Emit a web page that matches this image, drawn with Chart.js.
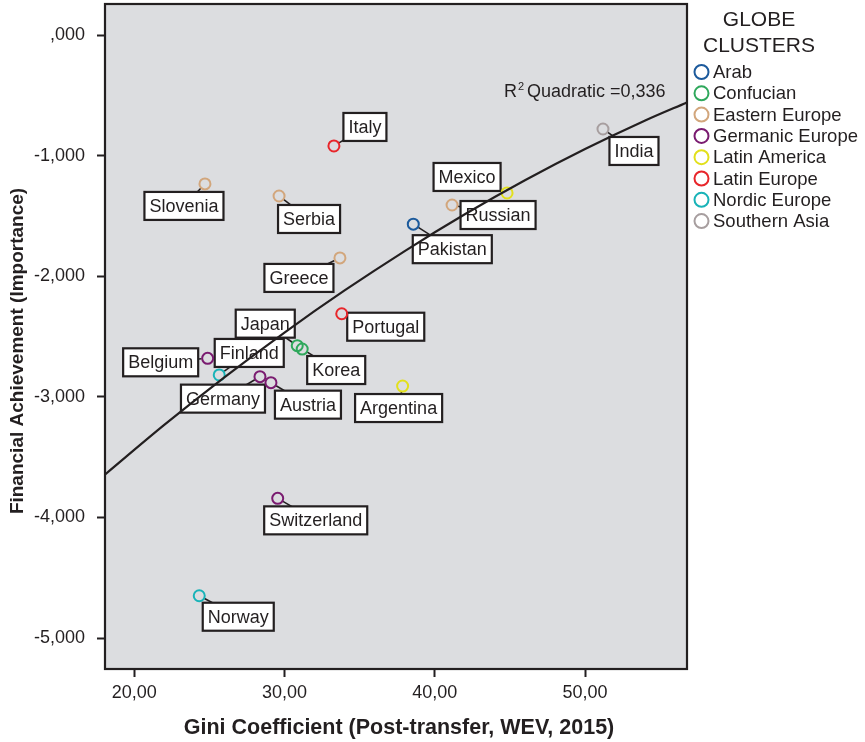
<!DOCTYPE html>
<html>
<head>
<meta charset="utf-8">
<script src="https://cdn.jsdelivr.net/npm/chart.js@4.4.0/dist/chart.umd.min.js"></script>
<style>
  html, body { margin: 0; padding: 0; background: #fff; }
  canvas { display: block; }
</style>
</head>
<body>
<canvas id="giniChart" width="865" height="742"></canvas>
<script>
(function() {
    'use strict';

    // --- data ---
    const countries = ['Italy', 'Slovenia', 'Serbia', 'Greece', 'Mexico', 'Russian', 'Pakistan', 'India',
        'Portugal', 'Japan', 'Korea', 'Belgium', 'Finland', 'Germany', 'Austria', 'Argentina',
        'Switzerland', 'Norway'];
    const gini = [33.29, 24.71, 29.64, 33.69, 44.81, 41.15, 38.57, 51.19,
        33.81, 30.85, 31.18, 24.89, 25.66, 28.37, 29.10, 37.86, 29.55, 24.33];
    const achievement = [-0.917, -1.232, -1.332, -1.846, -1.307, -1.407, -1.566, -0.776,
        -2.309, -2.574, -2.602, -2.679, -2.817, -2.831, -2.881, -2.909, -3.841, -4.649];
    const countryCluster = ['Latin Europe', 'Eastern Europe', 'Eastern Europe', 'Eastern Europe',
        'Latin America', 'Eastern Europe', 'Arab', 'Southern Asia', 'Latin Europe', 'Confucian',
        'Confucian', 'Germanic Europe', 'Nordic Europe', 'Germanic Europe', 'Germanic Europe',
        'Latin America', 'Germanic Europe', 'Nordic Europe'];

    const clusters = ['Arab', 'Confucian', 'Eastern Europe', 'Germanic Europe', 'Latin America',
        'Latin Europe', 'Nordic Europe', 'Southern Asia'];
    const clusterColors = ['#1c5a9c', '#2fa85c', '#d2a67c', '#7a1b70', '#e2e01c', '#e8262b',
        '#19b3b8', '#a79e9f'];

    // quadratic fit line
    const fitX = [18.0, 22, 26, 30, 34, 38, 42, 46, 50, 54, 56.8];
    const fitY = [-3.650, -3.232, -2.837, -2.465, -2.116, -1.789, -1.484, -1.202, -0.943, -0.706, -0.555];
    const fitLabel = 'Quadratic =0,336';

    const xMin = 18.06, xMax = 56.78;
    const yMin = -5.257, yMax = 0.261;

    // label box offsets from each point (px)
    const labelOffsets = [[31, -19], [-21, 22], [30, 23], [-41, 20], [-40, -16], [46, 10], [39, 25],
        [31, 22], [44, 13], [-32, -22], [34, 21], [-47, 4], [30, -22], [-37, 22], [37, 22],
        [-4, 22], [38, 22], [39, 21]];

    const FONT = 'Arial, "Liberation Sans", sans-serif';
    const INK = '#231f20';

    const datasets = [{
        type: 'line',
        label: 'fit',
        data: fitX.map((x, i) => ({ x: x, y: fitY[i] })),
        borderColor: INK,
        borderWidth: 2.2,
        pointRadius: 0,
        cubicInterpolationMode: 'monotone',
        fill: false,
        order: 0
    }];

    clusters.forEach((c, ci) => {
        const pts = [];
        countries.forEach((name, i) => {
            if (countryCluster[i] === c) pts.push({ x: gini[i], y: achievement[i] });
        });
        datasets.push({
            type: 'scatter',
            label: c,
            data: pts,
            borderColor: clusterColors[ci],
            backgroundColor: 'transparent',
            borderWidth: 2,
            pointRadius: 5.5,
            pointHoverRadius: 5.5,
            order: 1
        });
    });

    const plotFrame = {
        id: 'plotFrame',
        beforeDraw(chart) {
            const { ctx, chartArea: a } = chart;
            ctx.save();
            ctx.fillStyle = '#dcdde0';
            ctx.fillRect(a.left, a.top, a.right - a.left, a.bottom - a.top);
            ctx.restore();
        },
        beforeDatasetsDraw(chart) {
            // leaders and label boxes
            const { ctx } = chart;
            const xs = chart.scales.x, ys = chart.scales.y;
            ctx.save();
            ctx.font = '18px ' + FONT;
            countries.forEach((name, i) => {
                const px = xs.getPixelForValue(gini[i]);
                const py = ys.getPixelForValue(achievement[i]);
                const cx = px + labelOffsets[i][0];
                const cy = py + labelOffsets[i][1];
                const w = ctx.measureText(name).width + 10;
                const h = 28;
                const d = Math.hypot(cx - px, cy - py);
                ctx.strokeStyle = INK;
                ctx.lineWidth = 1.6;
                ctx.beginPath();
                ctx.moveTo(px + (cx - px) / d * 6, py + (cy - py) / d * 6);
                ctx.lineTo(cx, cy);
                ctx.stroke();
                ctx.fillStyle = '#fff';
                ctx.fillRect(cx - w / 2, cy - h / 2, w, h);
                ctx.lineWidth = 2.2;
                ctx.strokeRect(cx - w / 2, cy - h / 2, w, h);
                ctx.fillStyle = INK;
                ctx.textAlign = 'center';
                ctx.textBaseline = 'middle';
                ctx.fillText(name, cx, cy + 1);
            });
            ctx.restore();
        },
        afterDraw(chart) {
            const { ctx, chartArea: a } = chart;
            const xs = chart.scales.x, ys = chart.scales.y;
            ctx.save();
            ctx.strokeStyle = INK;
            ctx.lineWidth = 2.2;
            ctx.strokeRect(a.left, a.top, a.right - a.left, a.bottom - a.top);

            // R² annotation
            ctx.fillStyle = INK;
            ctx.textBaseline = 'alphabetic';
            ctx.textAlign = 'left';
            let tx = xs.getPixelForValue(44.6);
            const ty = ys.getPixelForValue(-0.51);
            ctx.font = '18px ' + FONT;
            ctx.fillText('R', tx, ty);
            tx += ctx.measureText('R').width;
            ctx.font = '11px ' + FONT;
            ctx.fillText('2', tx + 1, ty - 7);
            tx += ctx.measureText('2').width + 4;
            ctx.font = '18px ' + FONT;
            ctx.fillText(fitLabel, tx, ty);

            // axis titles
            ctx.font = 'bold 21.5px ' + FONT;
            ctx.textAlign = 'center';
            ctx.textBaseline = 'middle';
            ctx.fillText('Gini Coefficient (Post-transfer, WEV, 2015)', 399, 728);
            ctx.font = 'bold 19px ' + FONT;
            ctx.save();
            ctx.translate(18, 351);
            ctx.rotate(-Math.PI / 2);
            ctx.fillText('Financial Achievement (Importance)', 0, 0);
            ctx.restore();

            // legend
            ctx.font = '21px ' + FONT;
            ctx.fillText('GLOBE', 759, 20);
            ctx.fillText('CLUSTERS', 759, 46);
            ctx.font = '18.5px ' + FONT;
            ctx.textAlign = 'left';
            clusters.forEach((c, i) => {
                const ly = 72 + i * 21.3;
                ctx.strokeStyle = clusterColors[i];
                ctx.lineWidth = 2;
                ctx.beginPath();
                ctx.arc(701.5, ly, 7, 0, Math.PI * 2);
                ctx.stroke();
                ctx.fillStyle = INK;
                ctx.fillText(c, 713, ly + 1);
            });
            ctx.restore();
        }
    };

    const ctx = document.getElementById('giniChart').getContext('2d');
    new Chart(ctx, {
        data: { datasets: datasets },
        options: {
            responsive: false,
            animation: false,
            devicePixelRatio: 1,
            layout: { autoPadding: false, padding: { top: 4, right: 178, left: 0, bottom: 0 } },
            plugins: { legend: { display: false }, tooltip: { enabled: false } },
            scales: {
                x: {
                    type: 'linear',
                    min: xMin,
                    max: xMax,
                    afterFit(scale) {
                        scale.height = 73;
                        scale.paddingLeft = 0;
                        scale.paddingRight = 0;
                    },
                    border: { display: false },
                    grid: { drawOnChartArea: false, drawTicks: true, tickLength: 8, tickColor: INK, tickWidth: 2 },
                    ticks: {
                        stepSize: 10,
                        includeBounds: false,
                        padding: 5,
                        color: INK,
                        font: { family: FONT, size: 18 },
                        callback: (v) => v.toFixed(2).replace('.', ',')
                    }
                },
                y: {
                    type: 'linear',
                    min: yMin,
                    max: yMax,
                    afterFit(scale) {
                        scale.width = 105;
                        scale.paddingTop = 0;
                        scale.paddingBottom = 0;
                    },
                    border: { display: false },
                    grid: { drawOnChartArea: false, drawTicks: true, tickLength: 8, tickColor: INK, tickWidth: 2 },
                    ticks: {
                        stepSize: 1,
                        includeBounds: false,
                        padding: 12,
                        color: INK,
                        font: { family: FONT, size: 18 },
                        callback: (v) => {
                            const s = Math.abs(v).toFixed(3).replace('.', ',').replace(/^0/, '');
                            return (v < -0.0001 ? '-' : '') + s;
                        }
                    }
                }
            }
        },
        plugins: [plotFrame]
    });
})();
</script>
</body>
</html>
